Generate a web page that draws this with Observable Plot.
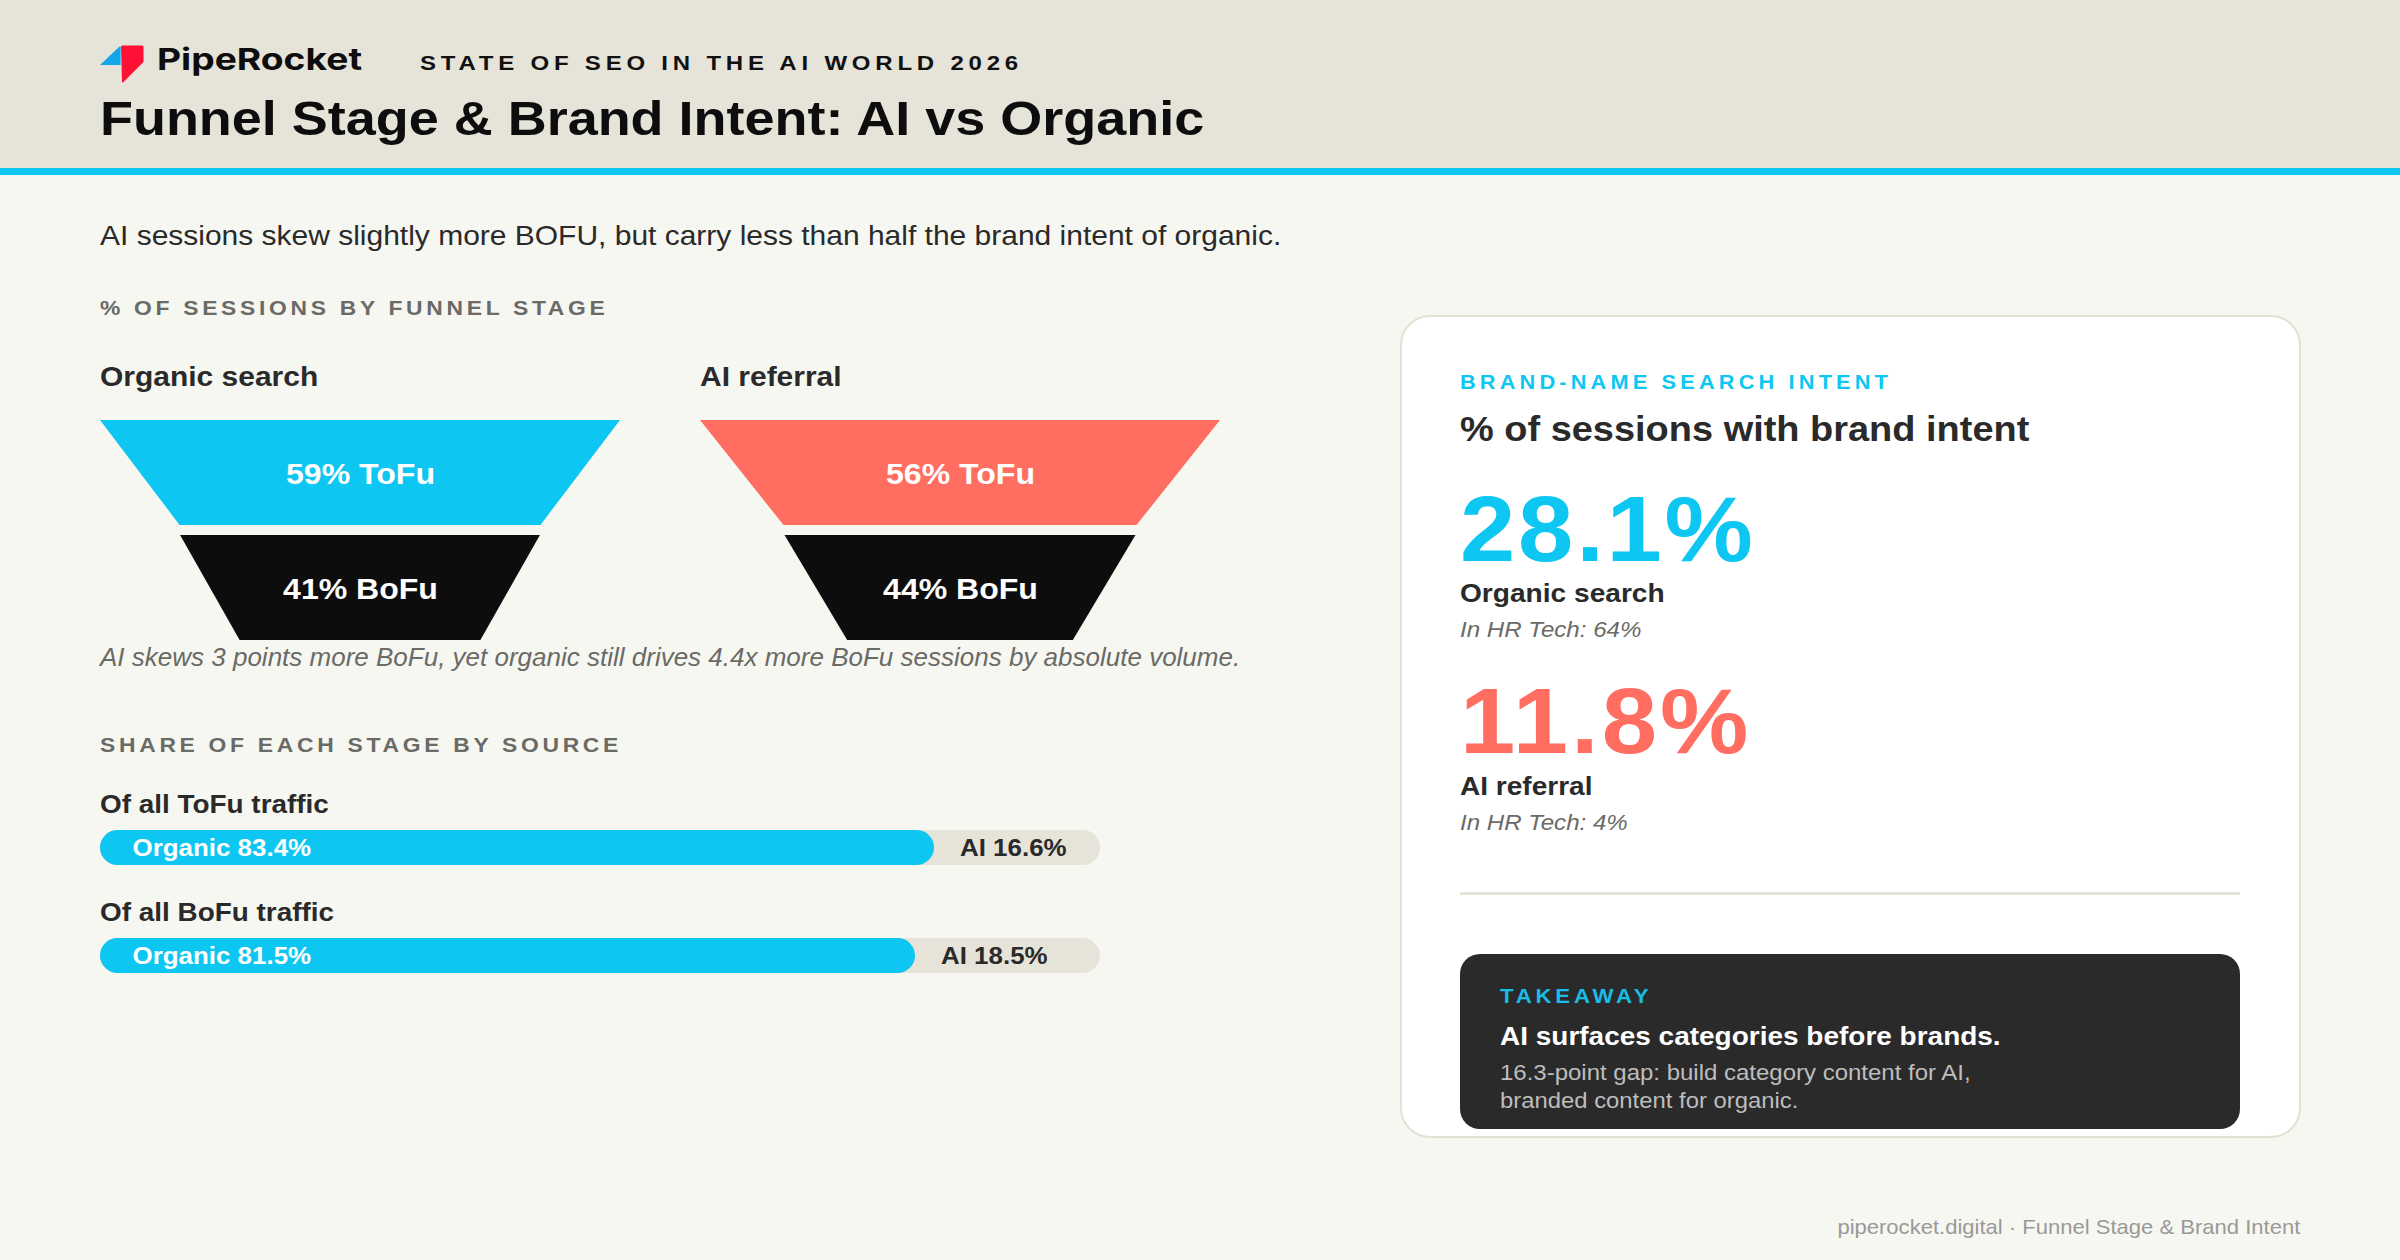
<!DOCTYPE html>
<html><head><meta charset="utf-8">
<script src="https://cdn.jsdelivr.net/npm/d3@7"></script>
<script src="https://cdn.jsdelivr.net/npm/@observablehq/plot@0.6"></script>
<style>
html,body{margin:0;padding:0;background:#F7F7F2;}
#page{position:relative;width:2400px;height:1260px;overflow:hidden;background:#F7F7F2;font-family:"Liberation Sans",Arial,sans-serif;}
.t{position:absolute;white-space:nowrap;line-height:1;}
.box{position:absolute;box-sizing:border-box;}
.plot{position:absolute;}
.plot svg{display:block;overflow:visible;}
</style></head><body><div id="page"></div>
<script>
const CYAN="#0DC7F2",CORAL="#FF6E60",INK="#0D0D0D",BEIGE="#E6E3D8",CHAR="#2A2A2A",GREY="#6A6A66";

// Funnel data: widths are % of the funnel's top edge; shares are the labels.
const funnelStages=["ToFu","BoFu"];
const organicShares=[59,41];
const aiShares=[56,44];
const organicWidths=[[100,69.4],[69.2,46.3]];
const aiWidths=[[100,67.9],[67.5,43.4]];
const stageDepths=[[0,47.7],[52.3,100]];

// Share of each stage by source
const stageBarLabels=["Of all ToFu traffic","Of all BoFu traffic"];
const organicStageShare=[83.4,81.5];
const aiStageShare=[16.6,18.5];

// Brand intent
const brandValues=[28.1,11.8];
const brandSources=["Organic search","AI referral"];
const hrTechValues=[64,4];

const page=document.getElementById("page");
function box(x,y,w,h,css){const d=document.createElement("div");d.className="box";
  d.style.cssText=`left:${x}px;top:${y}px;width:${w}px;height:${h}px;${css||""}`;page.appendChild(d);return d;}
function label(text,x,base,size,css,k=1,right=false){const d=document.createElement("div");d.className="t";d.textContent=text;
  const top=base-0.8465*size;
  d.style.cssText=`top:${top}px;font-size:${size}px;${right?`right:${2400-x}px;`:`left:${x}px;`}transform:scaleX(${k});transform-origin:${right?"right":"left"} center;${css||""}`;page.appendChild(d);return d;}
function stretchText(svg,k){svg.querySelectorAll("text").forEach(el=>{
  el.setAttribute("transform",(el.getAttribute("transform")||"")+` scale(${k},1)`);});}

// Header
box(0,0,2400,168,`background:${BEIGE}`);
box(0,168,2400,7,`background:${CYAN}`);
const logo=document.createElementNS("http://www.w3.org/2000/svg","svg");
logo.setAttribute("width",50);logo.setAttribute("height",42);logo.setAttribute("viewBox","0 0 50 42");
logo.style.cssText="position:absolute;left:98px;top:44px";
logo.innerHTML=`<path d="M2 21 L21.6 2.4 L22.6 2.4 L22.6 21 Z" fill="#12A5E8"/><path d="M23 3 Q23 1.5 24.5 1.5 L44 1.5 Q45.5 1.5 45.5 3 L45.5 18 L25.5 38 Q24 39.5 24 37.5 Z" fill="#FF1035"/>`;
page.appendChild(logo);
label("PipeRocket",157,69.5,30,"font-family:Inter;font-weight:700;color:#0D0D0D",1.24);
label("STATE OF SEO IN THE AI WORLD 2026",420,70,20.5,"font-weight:700;color:#111;letter-spacing:4.1px",1.17);
label("Funnel Stage & Brand Intent: AI vs Organic",100,135.5,48,"font-weight:700;color:#0D0D0D",1.124);

label("AI sessions skew slightly more BOFU, but carry less than half the brand intent of organic.",100,245.5,27.5,`color:${CHAR}`,1.09);
label("% OF SESSIONS BY FUNNEL STAGE",100,315,21,`font-weight:700;color:${GREY};letter-spacing:3.4px`,1.088);

// Funnels
label(brandSources[0],100,386,27.5,`font-weight:700;color:${CHAR}`,1.09);
label(brandSources[1],700,386,27.5,`font-weight:700;color:${CHAR}`,1.09);

function funnel(left,shares,widths,topColor){
  const marks=[];
  const fills=[topColor,INK];
  funnelStages.forEach((s,i)=>{
    const pts=stageDepths[i].map((depth,j)=>({depth,w:widths[i][j]}));
    marks.push(Plot.areaX(pts,{x1:d=>-d.w/2,x2:d=>d.w/2,y:"depth",fill:fills[i]}));
  });
  const labels=funnelStages.map((s,i)=>({text:`${shares[i]}% ${s}`,depth:(stageDepths[i][0]+stageDepths[i][1])/2}));
  marks.push(Plot.text(labels,{x:0,y:"depth",text:"text",dy:1.5,fill:"#fff",fontSize:29,fontWeight:700,textAnchor:"middle",lineAnchor:"middle"}));
  const svg=Plot.plot({width:520,height:220,margin:0,
    x:{domain:[-50,50],axis:null},y:{domain:[0,100],reverse:true,axis:null},
    style:{background:"transparent",fontFamily:"'Liberation Sans',Arial,sans-serif"},marks});
  stretchText(svg,1.105);
  const d=document.createElement("div");d.className="plot";d.style.cssText=`left:${left}px;top:420px;width:520px;height:220px`;
  d.appendChild(svg);page.appendChild(d);
}
funnel(100,organicShares,organicWidths,CYAN);
funnel(700,aiShares,aiWidths,CORAL);
label("AI skews 3 points more BoFu, yet organic still drives 4.4x more BoFu sessions by absolute volume.",100,666,25,`font-style:italic;color:${GREY}`,1.04);

// Stage share bars
label("SHARE OF EACH STAGE BY SOURCE",100,752,21,`font-weight:700;color:${GREY};letter-spacing:3.4px`,1.089);
function stageBar(i,top){
  const svg=Plot.plot({width:1000,height:35,margin:0,
    x:{domain:[0,100],axis:null},
    style:{background:"transparent",fontFamily:"'Liberation Sans',Arial,sans-serif"},
    marks:[
      Plot.barX([0],{x1:0,x2:100,fill:BEIGE,rx:17.5}),
      Plot.barX([organicStageShare[i]],{x1:0,x2:d=>d,fill:CYAN,rx:17.5}),
      Plot.text([organicStageShare[i]],{x:3.2,frameAnchor:"middle",dy:0.5,text:d=>`Organic ${d}%`,fill:"#fff",fontSize:24,fontWeight:700,textAnchor:"start",lineAnchor:"middle"}),
      Plot.text([aiStageShare[i]],{x:d=>100-d+2.55,frameAnchor:"middle",dy:0.5,text:d=>`AI ${d}%`,fill:CHAR,fontSize:24,fontWeight:700,textAnchor:"start",lineAnchor:"middle"})
    ]});
  stretchText(svg,1.08);
  const d=document.createElement("div");d.className="plot";d.style.cssText=`left:100px;top:${top}px;width:1000px;height:35px`;
  d.appendChild(svg);page.appendChild(d);
}
label(stageBarLabels[0],100,813.5,25.5,`font-weight:700;color:${CHAR}`,1.094);
stageBar(0,829.5);
label(stageBarLabels[1],100,921.5,25.5,`font-weight:700;color:${CHAR}`,1.094);
stageBar(1,938);

// Card
box(1399.5,314.5,901,823,"background:#fff;border:2.5px solid #E2E1D3;border-radius:30px");
label("BRAND-NAME SEARCH INTENT",1460,388.5,20,`font-weight:700;color:${CYAN};letter-spacing:3.8px`,1.089);
label("% of sessions with brand intent",1460,441.5,34.5,`font-weight:700;color:${CHAR}`,1.1);
label(`${brandValues[0]}%`,1460,561,92,`font-weight:700;color:${CYAN};letter-spacing:2.6px`,1.08);
label(brandSources[0],1460,602,26,`font-weight:700;color:${CHAR}`,1.081);
label(`In HR Tech: ${hrTechValues[0]}%`,1460,638.5,22.5,`font-style:italic;color:${GREY}`,1.072);
label(`${brandValues[1]}%`,1460,753,92,`font-weight:700;color:${CORAL};letter-spacing:2.8px`,1.08);
label(brandSources[1],1460,795,26,`font-weight:700;color:${CHAR}`,1.078);
label(`In HR Tech: ${hrTechValues[1]}%`,1460,831,22.5,`font-style:italic;color:${GREY}`,1.07);
box(1460,892,780,2.5,`background:${BEIGE}`);
box(1460,953.5,780,175,"background:#2A2A2A;border-radius:20px");
label("TAKEAWAY",1500,1003,20,"font-weight:700;color:#17BDE6;letter-spacing:3.4px",1.11);
label("AI surfaces categories before brands.",1500,1045,26,"font-weight:700;color:#fff",1.076);
label("16.3-point gap: build category content for AI,",1500,1081.5,22.5,"color:#BDBDBD",1.066);
label("branded content for organic.",1500,1109.5,22.5,"color:#BDBDBD",1.06);
label("piperocket.digital · Funnel Stage & Brand Intent",2300,1234,21,"color:#999",1.049,true);
</script></body></html>
